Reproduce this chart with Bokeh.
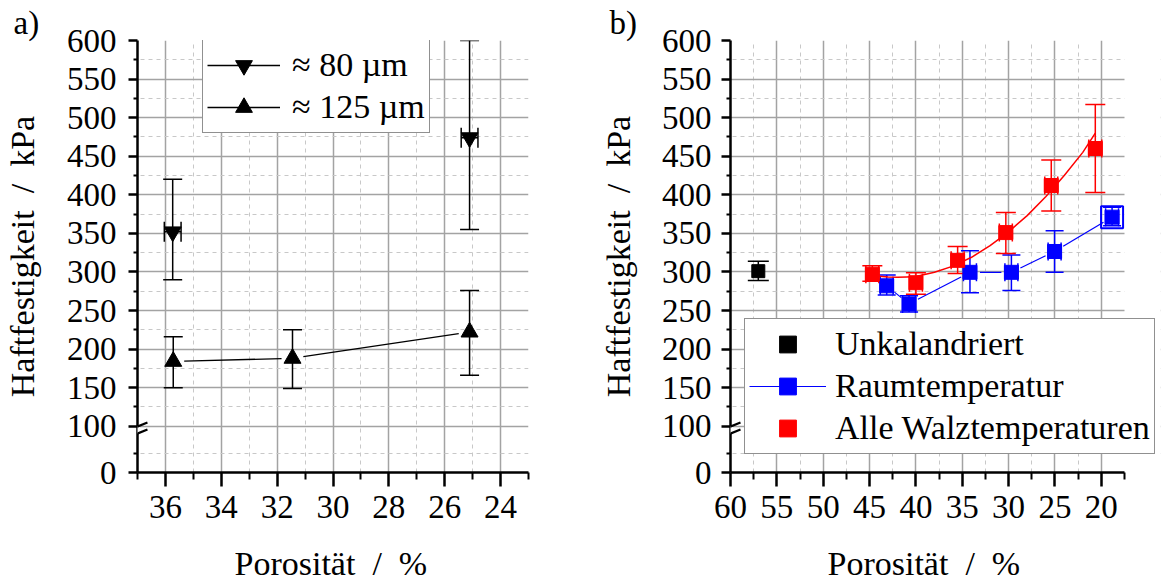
from bokeh.plotting import figure
from bokeh.models import (Range1d, FixedTicker, Whisker, TeeHead, Legend, LegendItem,
                          Title, Arrow, ColumnDataSource, BoxAnnotation)
from bokeh.layouts import row
from bokeh.embed import file_html
from bokeh.resources import INLINE

FONT = "Liberation Serif"
NB = "\u00a0"

# ---------------- data: panel a ----------------
a_x80 = [35.74, 25.11]
a_y80 = [352, 474]
a_lo80 = [290, 355]
a_hi80 = [420, 600]
a_xerr80 = [0.3, 0.3]

a_x125 = [35.72, 31.45, 25.11]
a_y125 = [184, 188, 222]
a_lo125 = [150, 149, 166]
a_hi125 = [216, 225, 276]

# ---------------- data: panel b ----------------
b_xu = [57.0]
b_yu = [301]
b_lou = [289]
b_hiu = [314]

b_xrt = [43.15, 40.74, 34.17, 29.7, 25.04, 18.84]
b_yrt = [282, 258.5, 299.5, 299.5, 326.5, 371]
b_lort = [270, 248, 273, 276, 299.5, 360]
b_hirt = [296, 269, 327.5, 322, 353.5, 384]
b_xerrrt = [0.7, 0.7, 0.7, 0.7, 0.7, 0.7]

b_xw = [44.7, 40.0, 35.5, 30.3, 25.4, 20.65]
b_yw = [297, 286, 315, 351, 412, 460]
b_low = [288, 271, 298, 324, 379, 403]
b_hiw = [308, 299, 333, 377, 445, 517]
b_xerrw = [0.7, 0.7, 0.7, 0.7, 0.7, 0.7]

# fit curve of the rolled samples
fit_x = [44.6, 43, 42, 41, 40, 38, 36, 34, 32, 30, 28, 26, 24, 22, 20.65]
fit_y = [295, 293.5, 293, 293.5, 294, 299.5, 307.5, 319, 334, 352, 373, 397.5, 425, 455, 480]

# ---------------- axis ticks ----------------
BREAK_SHIFT = 40          # values below the break are drawn shifted up by this
y_lower_ticks = [0]
y_lower_minor = [25]
y_upper_ticks = [100, 150, 200, 250, 300, 350, 400, 450, 500, 550, 600]
y_upper_minor = [125, 175, 225, 275, 325, 375, 425, 475, 525, 575]

a_xlim = (37, 23)
a_xticks = [36, 34, 32, 30, 28, 26, 24]
a_xminor = [37, 35, 33, 31, 29, 27, 25, 23]
b_xlim = (60, 17.5)
b_xticks = [60, 55, 50, 45, 40, 35, 30, 25, 20]
b_xminor = [57.5, 52.5, 47.5, 42.5, 37.5, 32.5, 27.5, 22.5, 17.5]

FRAME_H = 432
Y0, Y1 = BREAK_SHIFT, 600
XLABEL = "Porosität" + NB * 2 + "/" + NB * 2 + "%"
YLABEL = "Haftfestigkeit" + NB * 2 + "/" + NB * 2 + "kPa"


def gapped(xs, ys, gap, sx, sy):
    x0, y0, x1, y1 = [], [], [], []
    for i in range(len(xs) - 1):
        dx = (xs[i + 1] - xs[i]) * sx
        dy = (ys[i + 1] - ys[i]) * sy
        L = (dx * dx + dy * dy) ** 0.5
        if L <= 2 * gap:
            continue
        t = gap / L
        x0.append(xs[i] + t * (xs[i + 1] - xs[i]))
        y0.append(ys[i] + t * (ys[i + 1] - ys[i]))
        x1.append(xs[i + 1] - t * (xs[i + 1] - xs[i]))
        y1.append(ys[i + 1] - t * (ys[i + 1] - ys[i]))
    return x0, y0, x1, y1


def xlabel_title():
    kw = dict(align="left", offset=97, text_font=FONT, text_font_size="34px",
              text_font_style="normal", text_color="black")
    try:
        # a second, empty line with a negative line height keeps the panel thin,
        # so the label can sit as low as in the reference without shrinking the frame
        return Title(text=XLABEL + "\n", text_line_height=-0.9, standoff=44, **kw)
    except Exception:
        return Title(text=XLABEL, standoff=21, **kw)


def make_fig(width, bl, br, xlim, axis_px, xticks, xminor, tick_standoff, label_standoff,
             panel_label, panel_off):
    fw = width - bl - br
    sx = axis_px / abs(xlim[0] - xlim[1])
    d = 1.0 if xlim[0] > xlim[1] else -1.0
    xr = (xlim[0], xlim[0] - d * fw / sx)
    p = figure(width=width, height=583, x_range=Range1d(*xr), y_range=Range1d(Y0, Y1),
               output_backend="svg", toolbar_location=None,
               min_border_left=bl, min_border_right=br, min_border_top=40,
               min_border_bottom=111)
    p.outline_line_color = None
    p.background_fill_color = "white"
    p.border_fill_color = "white"
    p.title = Title(text=panel_label, align="left", offset=panel_off, text_font=FONT,
                    text_font_size="33px", text_font_style="normal", text_color="black",
                    standoff=0)

    ymaj = [v + BREAK_SHIFT for v in y_lower_ticks] + y_upper_ticks
    ymin = [v + BREAK_SHIFT for v in y_lower_minor] + y_upper_minor
    p.yaxis.ticker = FixedTicker(ticks=ymaj, minor_ticks=ymin)
    p.yaxis.major_label_overrides = {float(v + BREAK_SHIFT): str(v) for v in y_lower_ticks}
    p.xaxis.ticker = FixedTicker(ticks=xticks, minor_ticks=xminor)
    p.xaxis.bounds = (min(xlim), max(xlim))

    p.xgrid.ticker = FixedTicker(ticks=[t for t in xticks if t != xlim[0]],
                                 minor_ticks=[t for t in xminor if t not in xlim])
    p.ygrid.ticker = FixedTicker(ticks=[t for t in y_upper_ticks if t != 600], minor_ticks=ymin)
    for g in (p.xgrid, p.ygrid):
        g.grid_line_color = "#a3a3a3"
        g.grid_line_width = 1.5
        g.minor_grid_line_color = "#c8c8c8"
        g.minor_grid_line_dash = "4 4"
        g.minor_grid_line_width = 1
    if fw > axis_px + 1:
        p.add_layout(BoxAnnotation(left=xlim[1], right=xr[1], fill_color="white",
                                   fill_alpha=1.0, line_color=None, level="underlay"))

    for ax in (p.xaxis, p.yaxis):
        ax.axis_line_width = 2.5
        ax.axis_line_color = "black"
        ax.major_tick_line_color = "black"
        ax.major_tick_line_width = 2.5
        ax.minor_tick_line_color = "black"
        ax.minor_tick_line_width = 2
        ax.major_tick_in = 0
        ax.minor_tick_in = 0
        ax.major_label_text_font = FONT
        ax.major_label_text_font_size = "33px"
        ax.major_label_text_color = "black"
        ax.axis_label_text_font = FONT
        ax.axis_label_text_font_size = "34px"
        ax.axis_label_text_font_style = "normal"
        ax.axis_label_text_color = "black"
    p.xaxis.major_tick_out = 14
    p.xaxis.minor_tick_out = 7
    p.xaxis.major_label_standoff = 9
    p.yaxis.major_tick_out = 9
    p.yaxis.minor_tick_out = 4
    p.yaxis.major_label_standoff = tick_standoff
    p.yaxis.axis_label_standoff = label_standoff
    p.yaxis.axis_label = YLABEL
    p.add_layout(xlabel_title(), "below")

    # axis break marks (two slanted strokes across the y axis, just below 100)
    sy = FRAME_H / (Y1 - Y0)
    xa = xlim[0]
    yc = 95
    p.add_layout(Arrow(x_start=xa, y_start=yc - 4.5, x_end=xa, y_end=yc + 4.5, end=None,
                       line_color="white", line_width=5))
    for off in (-4.5, 4.5):
        p.add_layout(Arrow(x_start=xa + d * 10 / sx, y_start=yc + off - 5.2,
                           x_end=xa - d * 10 / sx, y_end=yc + off + 5.2, end=None,
                           line_color="black", line_width=2.2))
    return p, sx, sy


def whisk(p, xs, lo, hi, color, size=19, dim="height"):
    src = ColumnDataSource(dict(b=xs, lo=lo, hi=hi))
    p.add_layout(Whisker(source=src, base="b", lower="lo", upper="hi", dimension=dim,
                         line_color=color, line_width=1.5,
                         upper_head=TeeHead(size=size, line_color=color, line_width=1.5),
                         lower_head=TeeHead(size=size, line_color=color, line_width=1.5)))


# ================= panel a =================
pa, sxa, sya = make_fig(581, 135, 53, a_xlim, 393, a_xticks, a_xminor, 12, 23, "a)", -124)

x0, y0, x1, y1 = gapped(a_x125, a_y125, 11, sxa, sya)
seg125 = pa.segment(x0, y0, x1, y1, line_color="black", line_width=1.3)

whisk(pa, a_x80, a_lo80, a_hi80, "black")
whisk(pa, a_x125, a_lo125, a_hi125, "black")
whisk(pa, a_y80, [x - e for x, e in zip(a_x80, a_xerr80)],
      [x + e for x, e in zip(a_x80, a_xerr80)], "black", size=20, dim="width")

tri80 = pa.scatter(a_x80, a_y80, marker="inverted_triangle", size=17, color="black")
tri125 = pa.scatter(a_x125, a_y125, marker="triangle", size=17, color="black")

leg_a = Legend(items=[LegendItem(label="≈ 80 µm", renderers=[seg125, tri80]),
                      LegendItem(label="≈ 125 µm", renderers=[seg125, tri125])],
               location=(65, 339))
pa.add_layout(leg_a)

# ================= panel b =================
pb, sxb, syb = make_fig(581, 149, 2, b_xlim, 394, b_xticks, b_xminor, 10, 22, "b)", -121)

x0, y0, x1, y1 = gapped(b_xrt, b_yrt, 10, sxb, syb)
seg_rt = pb.segment(x0, y0, x1, y1, line_color="blue", line_width=1.2)
pb.line(fit_x, fit_y, line_color="red", line_width=1.5)

whisk(pb, b_xu, b_lou, b_hiu, "black", size=21)
whisk(pb, b_xrt, b_lort, b_hirt, "blue", size=18)
whisk(pb, b_yrt, [x - e for x, e in zip(b_xrt, b_xerrrt)],
      [x + e for x, e in zip(b_xrt, b_xerrrt)], "blue", size=18, dim="width")
whisk(pb, b_xw, b_low, b_hiw, "red", size=20)
whisk(pb, b_yw, [x - e for x, e in zip(b_xw, b_xerrw)],
      [x + e for x, e in zip(b_xw, b_xerrw)], "red", size=18, dim="width")

sq_u = pb.scatter(b_xu, b_yu, marker="square", size=13, color="black")
sq_rt = pb.scatter(b_xrt, b_yrt, marker="square", size=14, color="blue")
pb.scatter(b_xrt[-1:], b_yrt[-1:], marker="square", size=22, fill_color=None,
           line_color="blue", line_width=2)
sq_w = pb.scatter(b_xw, b_yw, marker="square", size=14, color="red")

leg_b = Legend(items=[LegendItem(label="Unkalandriert", renderers=[sq_u]),
                      LegendItem(label="Raumtemperatur", renderers=[seg_rt, sq_rt]),
                      LegendItem(label="Alle Walztemperaturen", renderers=[sq_w])],
               location=(14, 18))
pb.add_layout(leg_b)

for leg, gw, ls in ((leg_a, 73, 12), (leg_b, 77, 9)):
    leg.label_text_font = FONT
    leg.label_text_font_size = "34px"
    leg.label_text_color = "black"
    leg.glyph_width = gw
    leg.glyph_height = 42
    leg.label_height = 42
    leg.label_standoff = ls
    leg.padding = 4
    leg.spacing = 0
    leg.margin = 0
    leg.border_line_color = "#222222"
    leg.border_line_width = 1.5
    leg.background_fill_color = "white"
    leg.background_fill_alpha = 1.0

layout = row(pa, pb)
open("out.html", "w").write(file_html(layout, INLINE))
